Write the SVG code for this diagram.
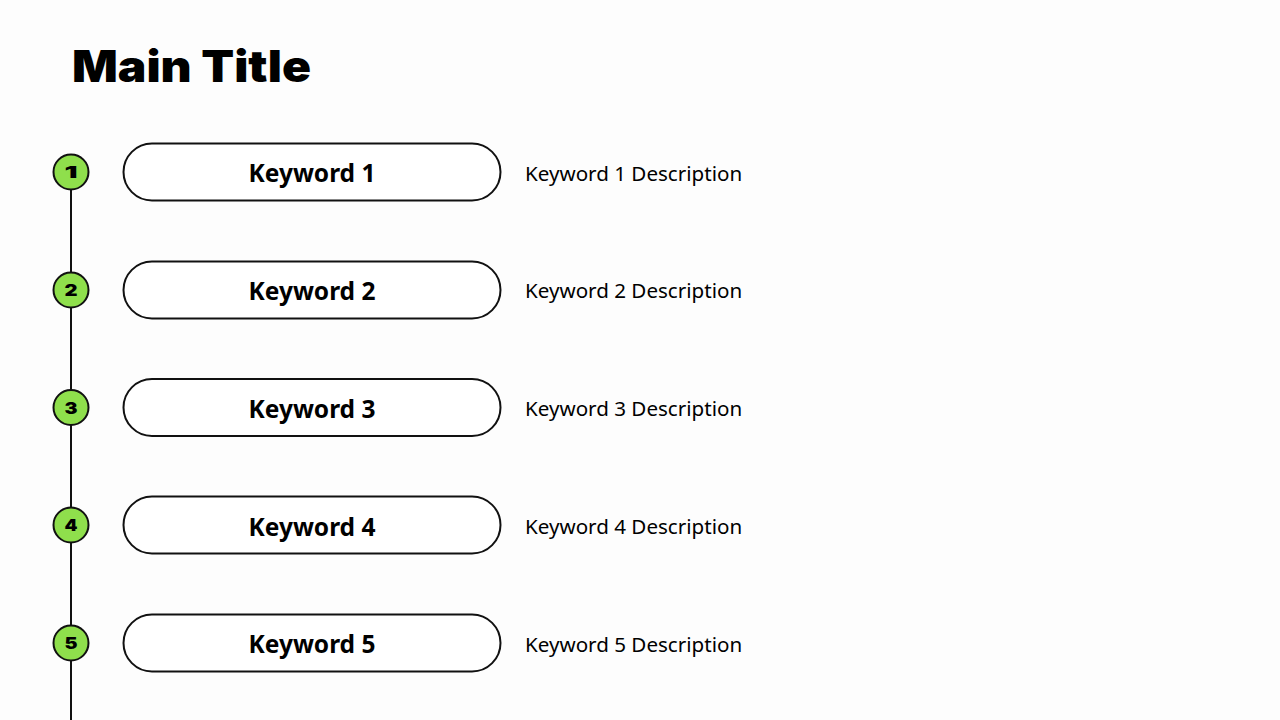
<svg xmlns="http://www.w3.org/2000/svg" width="1280" height="720" viewBox="0 0 1280 720">
<style>
.pill{fill:#ffffff;stroke:#111111;stroke-width:2}
.dot{fill:#8fdf4c;stroke:#111111;stroke-width:2}
.num{font-family:Inter,"Noto Sans",sans-serif;font-weight:900;font-size:16px;fill:#000;text-anchor:middle}
.kw{font-family:"Noto Sans",sans-serif;font-weight:700;font-size:24.5px;fill:#000;text-anchor:middle}
.desc{font-family:"Noto Sans",sans-serif;font-size:20.6px;fill:#000}
</style>
<rect x="0" y="0" width="1280" height="720" fill="#fdfdfd"/>
<text x="72" y="82" font-family="Inter,'Noto Sans',sans-serif" font-weight="900" font-size="44" textLength="239" lengthAdjust="spacingAndGlyphs" fill="#000">Main Title</text>
<g id="connectors">
<line x1="71" y1="172" x2="71" y2="720" stroke="#111" stroke-width="2"/>
</g>
<g id="step1">
<circle class="dot" cx="71" cy="172" r="17.5"/><text class="num" x="71" y="178" textLength="13" lengthAdjust="spacingAndGlyphs">1</text>
<rect class="pill" x="123.5" y="143.5" width="377" height="57" rx="28.5"/>
<text class="kw" x="312" y="182">Keyword 1</text>
<text class="desc" x="525" y="180.5">Keyword 1 Description</text>
</g>
<g id="step2">
<circle class="dot" cx="71" cy="290" r="17.5"/><text class="num" x="71" y="296" textLength="13" lengthAdjust="spacingAndGlyphs">2</text>
<rect class="pill" x="123.5" y="261.5" width="377" height="57" rx="28.5"/>
<text class="kw" x="312" y="300">Keyword 2</text>
<text class="desc" x="525" y="298">Keyword 2 Description</text>
</g>
<g id="step3">
<circle class="dot" cx="71" cy="407.5" r="17.5"/><text class="num" x="71" y="413.5" textLength="13" lengthAdjust="spacingAndGlyphs">3</text>
<rect class="pill" x="123.5" y="379" width="377" height="57" rx="28.5"/>
<text class="kw" x="312" y="418">Keyword 3</text>
<text class="desc" x="525" y="416">Keyword 3 Description</text>
</g>
<g id="step4">
<circle class="dot" cx="71" cy="525" r="17.5"/><text class="num" x="71" y="531" textLength="13" lengthAdjust="spacingAndGlyphs">4</text>
<rect class="pill" x="123.5" y="496.5" width="377" height="57" rx="28.5"/>
<text class="kw" x="312" y="536">Keyword 4</text>
<text class="desc" x="525" y="534">Keyword 4 Description</text>
</g>
<g id="step5">
<circle class="dot" cx="71" cy="643" r="17.5"/><text class="num" x="71" y="649" textLength="13" lengthAdjust="spacingAndGlyphs">5</text>
<rect class="pill" x="123.5" y="614.5" width="377" height="57" rx="28.5"/>
<text class="kw" x="312" y="653">Keyword 5</text>
<text class="desc" x="525" y="652">Keyword 5 Description</text>
</g>
</svg>
